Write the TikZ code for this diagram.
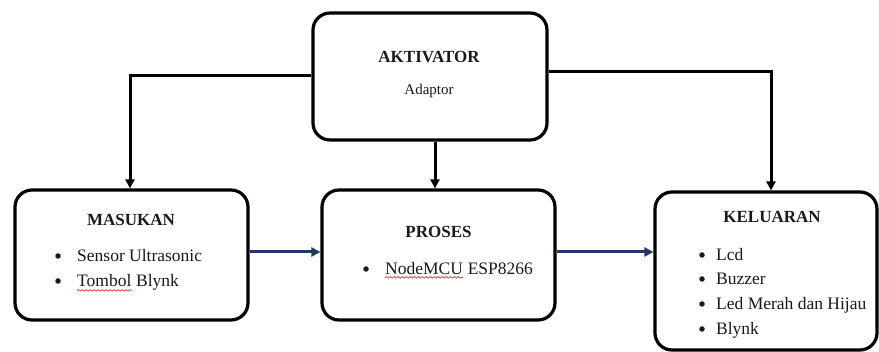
\documentclass[tikz,border=0pt]{standalone}
\usepackage{fontspec}
\setmainfont{Liberation Serif}
\usetikzlibrary{arrows.meta,decorations.pathmorphing}
\definecolor{navy}{HTML}{1F3864}
\definecolor{ink}{HTML}{1A1A1A}
\definecolor{spell}{HTML}{E04040}
\begin{document}
\begin{tikzpicture}[x=1pt,y=-1pt,
  block/.style={draw=black,line width=3.2pt,rounded corners=17pt,inner sep=0pt,fill=white},
  title/.style={font=\bfseries\fontsize{17}{20}\selectfont,text=ink,inner sep=0pt,anchor=base},
  sub/.style={font=\fontsize{15}{18}\selectfont,text=ink,inner sep=0pt,anchor=base},
  item/.style={font=\fontsize{17.5}{21}\selectfont,text=ink,inner sep=0pt,anchor=base west},
  dot/.style={fill=ink,circle,inner sep=0pt,minimum size=5.5pt},
  feed/.style={draw=black,line width=3pt,-{Triangle[length=9pt,width=9pt]}},
  flow/.style={draw=navy,line width=3pt,-{Triangle[length=9pt,width=9pt]}},
  squiggle/.style={draw=spell,line width=0.8pt,decorate,decoration={snake,amplitude=0.8pt,segment length=4pt}}]
\useasboundingbox (0,0) rectangle (879,352);

% blocks
\node[block,minimum width=234pt,minimum height=127pt] (akt) at (430,76.5) {};
\node[block,minimum width=233pt,minimum height=130pt] (mas) at (131.5,255) {};
\node[block,minimum width=233pt,minimum height=130pt] (pro) at (438.5,255) {};
\node[block,minimum width=222pt,minimum height=158pt] (kel) at (766,271) {};

% AKTIVATOR
\node[title] (aktT) at (429,63) {AKTIVATOR};
\node[sub] (aktS) at (429,95) {Adaptor};

% MASUKAN
\node[title] (masT) at (131,226) {MASUKAN};
\node[dot] (masB1) at (58,256) {};
\node[item] (masI1) at (77,262) {Sensor Ultrasonic};
\node[dot] (masB2) at (58,281) {};
\node[item] (masI2a) at (77,287) {Tombol};
\node[item] (masI2b) at (masI2a.base east) {\ Blynk};

% PROSES
\node[title] (proT) at (438.5,238) {PROSES};
\node[dot] (proB1) at (366,269) {};
\node[item] (proI1a) at (385,275) {NodeMCU};
\node[item] (proI1b) at (proI1a.base east) {\ ESP8266};

% KELUARAN
\node[title] (kelT) at (772,223) {KELUARAN};
\node[dot] (kelB1) at (702,255) {};
\node[item] (kelI1) at (716,261) {Lcd};
\node[dot] (kelB2) at (702,279) {};
\node[item] (kelI2) at (716,285) {Buzzer};
\node[dot] (kelB3) at (702,304) {};
\node[item] (kelI3) at (716,310) {Led Merah dan Hijau};
\node[dot] (kelB4) at (702,329) {};
\node[item] (kelI4) at (716,335) {Blynk};

% spelling marks under the flagged words
\draw[squiggle] ([yshift=-3pt]masI2a.south west) -- ([yshift=-3pt]masI2a.south east);
\draw[squiggle] ([yshift=-2pt]proI1a.south west) -- ([yshift=-2pt]proI1a.south east);

% supply lines from the activator
\draw[feed] (akt.west |- 0,76) -| (mas.north -| 130,0);
\draw[feed] (akt.east |- 0,72) -| (kel.north -| 771,0);
\draw[feed] (akt.south -| 435,0) -- (pro.north -| 435,0);

% signal flow
\draw[flow] (mas.east |- 0,252) -- (pro.west |- 0,252);
\draw[flow] (pro.east |- 0,252) -- (kel.west |- 0,252);
\end{tikzpicture}
\end{document}
